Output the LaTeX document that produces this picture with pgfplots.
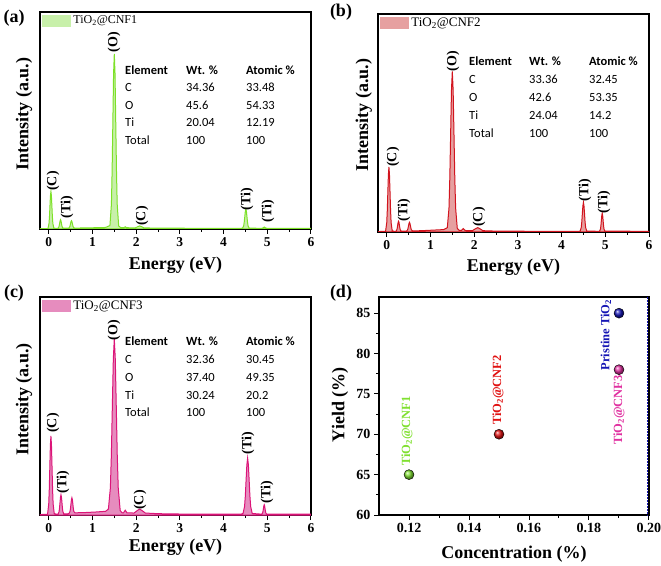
\documentclass[border=0pt]{standalone}
\usepackage{fontspec}
\setmainfont{Liberation Serif}
\newfontfamily\calibri{Carlito}
\usepackage{pgfplots}
\pgfplotsset{compat=1.18}
\definecolor{gline}{HTML}{7DE128}
\definecolor{gfill}{HTML}{C8F0AA}
\definecolor{rline}{HTML}{D2141E}
\definecolor{rfill}{HTML}{E6A0A0}
\definecolor{mline}{HTML}{DC1478}
\definecolor{mfill}{HTML}{E68CBE}
\definecolor{dgreen}{HTML}{80E030}
\definecolor{dred}{HTML}{E01010}
\definecolor{dblue}{HTML}{1414B4}
\definecolor{dpink}{HTML}{E030A0}
\begin{document}
\begin{tikzpicture}
\useasboundingbox (0pt,0pt) rectangle (661pt,565pt);
\pgfplotsset{
  base/.style={
    scale only axis, anchor=south west,
    tick align=outside, tick pos=left,
    major tick length=5pt, minor tick length=3pt,
    axis line style={line width=1.3pt},
    every tick/.style={black, line width=1pt},
    /pgf/number format/assume math mode=true,
    label style={font=\bfseries\fontsize{18}{18}\selectfont},
  },
  eds/.style={
    base,
    xmin=-0.2, xmax=6, ymin=0, ymax=100,
    xtick={0,1,2,3,4,5,6}, minor x tick num=1, ytick=\empty,
    ticklabel style={font=\bfseries\fontsize{13.5}{13.5}\selectfont},
    xlabel={Energy (eV)}, ylabel={Intensity (a.u.)},
    legend style={at={(axis description cs:0.008,0.992)}, anchor=north west, draw=none, fill=none, inner sep=0pt},
    legend image code/.code={\path[##1, draw=none, fill] (0pt,-6pt) rectangle (29pt,6pt);},
  },
}
% ---------------- (a)
\begin{axis}[eds, at={(40pt,336pt)}, width=271pt, height=217pt,
  xlabel style={at={(axis description cs:0.5,-0.166)}, anchor=center},
  ylabel style={at={(axis description cs:-0.059,0.53)}, anchor=center},
  legend style={font=\fontsize{12}{12}\selectfont}]
\addplot[draw=gline, fill=gfill, line width=1pt] coordinates {
(-0.20,0.2) (-0.02,0.2) (-0.016,0.4) (0.006,2.6) (0.017,5.8) (0.028,10.6) (0.039,15.3) (0.05,17.3)
(0.061,15.3) (0.072,10.6) (0.083,5.8) (0.094,2.6) (0.116,0.5) (0.15,0.3)
(0.21,0.3) (0.23,0.84) (0.24,1.6) (0.25,2.7) (0.26,3.8) (0.27,4.3) (0.28,3.8) (0.29,2.7) (0.30,1.6) (0.31,0.84) (0.33,0.35)
(0.45,0.35) (0.476,0.8) (0.487,1.4) (0.498,2.5) (0.509,3.4) (0.52,3.8) (0.531,3.4) (0.542,2.5) (0.553,1.4) (0.564,0.8) (0.59,0.4)
(0.8,0.5) (1.1,0.6) (1.3,0.7)
(1.40,1.6) (1.434,11.5) (1.45,26.7) (1.467,49.3) (1.483,71.3) (1.50,80.7) (1.517,71.3) (1.533,49.3) (1.55,26.7) (1.566,11.5) (1.60,1.4) (1.65,0.6)
(1.72,0.6) (1.75,1.0) (1.78,0.6)
(1.98,0.5) (2.04,1.1) (2.08,1.4) (2.12,1.1) (2.18,0.5)
(2.5,0.4) (3.0,0.35) (4.0,0.3) (4.40,0.3)
(4.435,0.4) (4.46,1.5) (4.4725,3.2) (4.485,5.6) (4.4975,8.1) (4.51,9.1) (4.5225,8.1) (4.535,5.6) (4.5475,3.2) (4.56,1.5) (4.585,0.4)
(4.87,0.3) (4.90,0.5) (4.93,0.9) (4.96,0.5) (5.0,0.3) (6.0,0.3)
} \closedcycle;
\legend{TiO\textsubscript{2}@CNF1}
\end{axis}
% ---------------- (b)
\begin{axis}[eds, at={(378pt,333pt)}, width=271pt, height=218pt,
  xlabel style={at={(axis description cs:0.5,-0.16)}, anchor=center},
  ylabel style={at={(axis description cs:-0.052,0.537)}, anchor=center},
  legend style={font=\fontsize{13}{13}\selectfont}]
\addplot[draw=rline, fill=rfill, line width=1pt] coordinates {
(-0.20,0.2) (-0.03,0.3) (-0.025,0.6) (0.0,4.3) (0.0125,9.9) (0.025,18.2) (0.0375,26.3) (0.05,29.8)
(0.0625,26.3) (0.075,18.2) (0.0875,9.9) (0.10,4.3) (0.125,0.6) (0.17,0.3)
(0.21,0.35) (0.23,0.92) (0.24,1.8) (0.25,3.1) (0.26,4.4) (0.27,4.9) (0.28,4.4) (0.29,3.1) (0.30,1.8) (0.31,0.92) (0.33,0.35)
(0.45,0.4) (0.476,0.95) (0.487,1.7) (0.498,2.9) (0.509,3.9) (0.52,4.4) (0.531,3.9) (0.542,2.9) (0.553,1.7) (0.564,0.95) (0.59,0.5)
(0.8,0.6) (1.1,0.9) (1.3,1.1)
(1.386,2.0) (1.424,11) (1.443,24.8) (1.462,45.2) (1.481,65.1) (1.50,73.7) (1.519,65.1) (1.538,45.2) (1.557,24.8) (1.576,11) (1.614,1.6) (1.66,0.7)
(1.71,0.7) (1.75,1.6) (1.79,0.7)
(1.96,0.6) (2.03,1.5) (2.08,2.0) (2.13,1.5) (2.2,0.6)
(2.5,0.4) (3.0,0.35) (4.0,0.3) (4.4,0.3)
(4.425,0.45) (4.45,2.1) (4.4625,4.6) (4.475,8.4) (4.4875,12.0) (4.50,13.6) (4.5125,12.0) (4.525,8.4) (4.5375,4.6) (4.55,2.1) (4.575,0.45)
(4.85,0.3) (4.87,0.4) (4.89,1.4) (4.90,3.0) (4.91,5.3) (4.92,7.6) (4.93,8.6) (4.94,7.6) (4.95,5.3) (4.96,3.0) (4.97,1.4) (4.99,0.4) (6.0,0.3)
} \closedcycle;
\legend{TiO\textsubscript{2}@CNF2}
\end{axis}
% ---------------- (c)
\begin{axis}[eds, at={(40pt,50pt)}, width=271pt, height=218pt,
  xlabel style={at={(axis description cs:0.5,-0.147)}, anchor=center},
  ylabel style={at={(axis description cs:-0.059,0.53)}, anchor=center},
  legend style={font=\fontsize{13}{13}\selectfont}]
\addplot[draw=mline, fill=mfill, line width=1pt] coordinates {
(-0.20,0.2) (-0.03,0.3) (-0.025,0.7) (0.0,5.2) (0.0125,12) (0.025,22.2) (0.0375,32) (0.05,36.3)
(0.0625,32) (0.075,22.2) (0.0875,12) (0.10,5.2) (0.125,0.7) (0.17,0.35)
(0.214,0.4) (0.236,1.5) (0.247,3.2) (0.258,5.8) (0.269,8.2) (0.28,9.3) (0.291,8.2) (0.302,5.8) (0.313,3.2) (0.324,1.5) (0.346,0.45)
(0.46,0.6) (0.486,1.6) (0.497,2.9) (0.508,5.0) (0.519,7.0) (0.53,7.9) (0.541,7.0) (0.552,5.0) (0.563,2.9) (0.574,1.6) (0.60,1.0)
(0.8,1.1) (1.1,1.4) (1.3,1.7)
(1.365,2.7) (1.41,12.5) (1.4325,27.5) (1.455,49.8) (1.4775,71.5) (1.50,80.8) (1.5225,71.5) (1.545,49.8) (1.5675,27.5) (1.59,12.5) (1.635,2.0) (1.68,1.0)
(1.71,1.0) (1.75,2.2) (1.79,1.0)
(1.95,0.9) (2.03,2.1) (2.08,2.7) (2.13,2.1) (2.21,0.9)
(2.5,0.6) (3.0,0.45) (4.0,0.4) (4.4,0.4)
(4.445,0.7) (4.48,3.9) (4.4975,8.7) (4.515,16) (4.5325,23) (4.55,26.1) (4.5675,23) (4.585,16) (4.6025,8.7) (4.62,3.9) (4.655,0.7)
(4.86,0.4) (4.876,0.45) (4.894,0.98) (4.903,1.8) (4.912,3.0) (4.921,4.2) (4.93,4.7) (4.939,4.2) (4.948,3.0) (4.957,1.8) (4.966,0.98) (4.984,0.45) (6.0,0.4)
} \closedcycle;
\legend{TiO\textsubscript{2}@CNF3}
\end{axis}
% ---------------- (d)
\begin{axis}[base, at={(379pt,50pt)}, width=270pt, height=218pt,
  xmin=0.11, xmax=0.20, ymin=60, ymax=87,
  xtick={0.12,0.14,0.16,0.18,0.20}, ytick={60,65,70,75,80,85},
  minor x tick num=1, minor y tick num=1,
  ticklabel style={font=\bfseries\fontsize{14}{14}\selectfont},
  xticklabel style={/pgf/number format/fixed, /pgf/number format/fixed zerofill, /pgf/number format/precision=2},
  xlabel={Concentration (\%)}, ylabel={Yield (\%)},
  xlabel style={at={(axis description cs:0.5,-0.18)}, anchor=center},
  ylabel style={at={(axis description cs:-0.144,0.505)}, anchor=center}]
\addplot[only marks, mark=ball, mark size=5pt, mark options={ball color=dgreen}] coordinates {(0.12,65)};
\addplot[only marks, mark=ball, mark size=5pt, mark options={ball color=dred}] coordinates {(0.15,70)};
\addplot[only marks, mark=ball, mark size=5pt, mark options={ball color=dblue}] coordinates {(0.19,85)};
\addplot[only marks, mark=ball, mark size=5pt, mark options={ball color=dpink}] coordinates {(0.19,78)};
\draw[dblue, densely dotted, line width=0.5pt] (axis cs:0.1993,60) -- (axis cs:0.1993,87);
\end{axis}
% ---------------- texts
\tikzset{tbl/.style={anchor=west, font=\calibri\fontsize{12.5}{12.5}\selectfont, inner sep=0pt},
         pk/.style={rotate=90, anchor=center, font=\bfseries\fontsize{14}{14}\selectfont, inner sep=0pt},
         pl/.style={anchor=center, font=\bfseries\fontsize{18}{18}\selectfont, inner sep=0pt},
         dl/.style={rotate=90, anchor=center, font=\bfseries\fontsize{12.5}{12.5}\selectfont, inner sep=0pt}}
\node[pl] at (14pt,547pt) {(a)};
\node[pl] at (341pt,553pt) {(b)};
\node[pl] at (14pt,272pt) {(c)};
\node[pl] at (341pt,272pt) {(d)};
% table a
\foreach \xx/\yy/\txt in {125/495/\textbf{Element},186/495/\textbf{Wt. \%},246/495/\textbf{Atomic \%},
  125/478/C,186/478/34.36,246/478/33.48, 125/460/O,186/460/45.6,246/460/54.33,
  125/443/Ti,186/443/20.04,246/443/12.19, 125/425/Total,186/425/100,246/425/100}
  {\node[tbl] at (\xx pt,\yy pt) {\txt};}
% table b
\foreach \xx/\yy/\txt in {469/504/\textbf{Element},529/504/\textbf{Wt. \%},589/504/\textbf{Atomic \%},
  469/486/C,529/486/33.36,589/486/32.45, 469/468/O,529/468/42.6,589/468/53.35,
  469/450/Ti,529/450/24.04,589/450/14.2, 469/432/Total,529/432/100,589/432/100}
  {\node[tbl] at (\xx pt,\yy pt) {\txt};}
% table c
\foreach \xx/\yy/\txt in {125/224/\textbf{Element},186/224/\textbf{Wt. \%},246/224/\textbf{Atomic \%},
  125/206/C,186/206/32.36,246/206/30.45, 125/188/O,186/188/37.40,246/188/49.35,
  125/170/Ti,186/170/30.24,246/170/20.2, 125/153/Total,186/153/100,246/153/100}
  {\node[tbl] at (\xx pt,\yy pt) {\txt};}
% peak labels a
\node[pk] at (53pt,384pt) {(C)};
\node[pk] at (67pt,358pt) {(Ti)};
\node[pk] at (114pt,523pt) {(O)};
\node[pk] at (142pt,349pt) {(C)};
\node[pk] at (247pt,366pt) {(Ti)};
\node[pk] at (268pt,354pt) {(Ti)};
% peak labels b
\node[pk] at (393pt,408pt) {(C)};
\node[pk] at (404pt,355pt) {(Ti)};
\node[pk] at (453pt,504pt) {(O)};
\node[pk] at (479pt,348pt) {(C)};
\node[pk] at (585pt,375pt) {(Ti)};
\node[pk] at (604pt,363pt) {(Ti)};
% peak labels c
\node[pk] at (53pt,142pt) {(C)};
\node[pk] at (63pt,83pt) {(Ti)};
\node[pk] at (114pt,235pt) {(O)};
\node[pk] at (140pt,65pt) {(C)};
\node[pk] at (248pt,122pt) {(Ti)};
\node[pk] at (267pt,73pt) {(Ti)};
% labels d
\node[dl, text=dgreen] at (407pt,134pt) {TiO\textsubscript{2}@CNF1};
\node[dl, text=dred] at (498pt,175pt) {TiO\textsubscript{2}@CNF2};
\node[dl, text=dblue] at (606pt,230pt) {Pristine TiO\textsubscript{2}};
\node[dl, text=dpink] at (619pt,155pt) {TiO\textsubscript{2}@CNF3};
\end{tikzpicture}
\end{document}
